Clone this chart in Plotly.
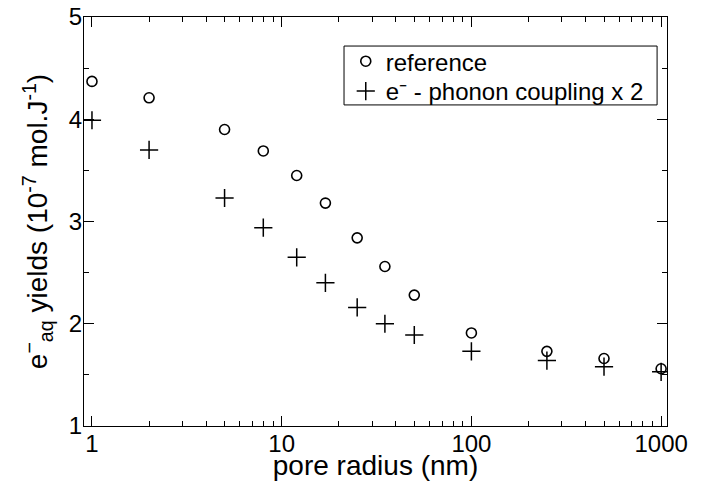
import plotly.graph_objects as go

pore_radius = [1, 2, 5, 8, 12, 17, 25, 35, 50, 100, 250, 500, 1000]
reference = [4.37, 4.21, 3.90, 3.69, 3.45, 3.18, 2.84, 2.56, 2.28, 1.91, 1.73, 1.66, 1.56]
phonon_x2 = [3.99, 3.70, 3.23, 2.94, 2.65, 2.40, 2.16, 2.00, 1.89, 1.73, 1.64, 1.58, 1.53]

FONT = "Liberation Sans, Arial, sans-serif"

fig = go.Figure()
fig.add_trace(go.Scatter(
    x=pore_radius, y=reference, mode="markers", name="reference", legend="legend",
    marker=dict(symbol="circle-open", size=10, color="black", line=dict(width=1.6, color="black")),
))
fig.add_trace(go.Scatter(
    x=pore_radius, y=phonon_x2, mode="markers", name="e\u207b - phonon coupling x 2", legend="legend2",
    marker=dict(symbol="cross-thin-open", size=13, color="black", line=dict(width=1.5, color="black")),
))

axis_common = dict(
    showgrid=False, zeroline=False, showline=True, linecolor="black", linewidth=1.3,
    mirror="allticks", ticks="inside", ticklen=10, tickwidth=1, tickcolor="black",
    tickfont=dict(family=FONT, size=24, color="black"), automargin=False,
    ticklabeloverflow="allow",
)

fig.update_xaxes(
    type="log", range=[-0.042, 3.031], tickvals=[1, 10, 100, 1000], ticktext=["1", "10", "100", "1000"],
    minor=dict(ticks="inside", ticklen=5, tickcolor="black", dtick="D1", showgrid=False),
    title=dict(text="pore radius (nm)", font=dict(family=FONT, size=28, color="black"), standoff=0),
    ticklabelstandoff=-4,
    **axis_common,
)
fig.update_yaxes(
    range=[1, 5], dtick=1,
    minor=dict(ticks="inside", ticklen=5, tickcolor="black", dtick=0.5, showgrid=False),
    title=dict(text="e<sup>\u2212</sup><sub>aq</sub> yields (10<sup>-7</sup> mol.J<sup>-1</sup>)",
               font=dict(family=FONT, size=28, color="black"), standoff=12),
    ticklabelstandoff=-4,
    **axis_common,
)

legend_style = dict(
    xanchor="left", yanchor="top", borderwidth=0, bgcolor="rgba(0,0,0,0)",
    font=dict(family=FONT, size=24, color="black"), itemsizing="trace",
)

# the page body has an 8px default margin, so the figure is sized to fit the 702x481 window
fig.update_layout(
    width=694, height=473,
    margin=dict(l=76, r=35, t=9, b=55),
    paper_bgcolor="white", plot_bgcolor="white",
    showlegend=True,
    legend=dict(x=0.449, y=0.946, **legend_style),
    legend2=dict(x=0.449, y=0.873, **legend_style),
    shapes=[dict(type="rect", xref="paper", yref="paper", x0=0.446, x1=0.983, y0=0.785, y1=0.929,
                 line=dict(color="black", width=1), fillcolor="rgba(0,0,0,0)")],
)

fig.write_html("out.html")
